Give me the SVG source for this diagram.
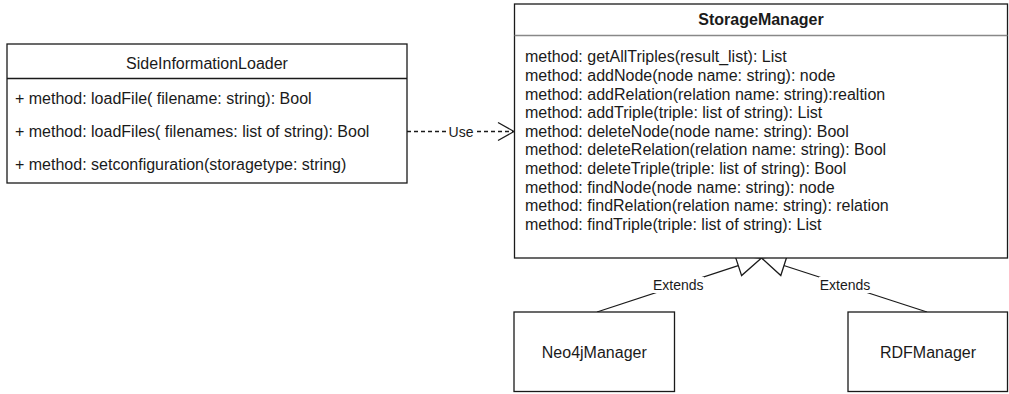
<svg xmlns="http://www.w3.org/2000/svg" width="1009" height="394" viewBox="0 0 1009 394">
<style>
.box{fill:#fff;stroke:#1a1a1a;stroke-width:1.3}
.sep{stroke:#1a1a1a;stroke-width:1.3}
.t{font-family:"Liberation Sans",Arial,Helvetica,sans-serif;font-size:16px;fill:#1a1a1a}
.c{text-anchor:middle}
.b{font-weight:bold}
.lbl{font-family:"Liberation Sans",Arial,Helvetica,sans-serif;font-size:14px;fill:#1a1a1a;text-anchor:middle}
.edge{fill:none;stroke:#1a1a1a;stroke-width:1.3}
.dash{stroke-dasharray:4 3}
.bg{fill:#fff}
</style>
<rect width="1009" height="394" fill="#fff"/>
<g id="connectors">
  <g id="use">
    <line class="edge dash" x1="407" y1="131.5" x2="513" y2="131.5"/>
    <polyline class="edge" points="498,122.5 514,131.5 498,140.5"/>
    <rect class="bg" x="447" y="123" width="28" height="16"/>
    <text class="lbl" x="461" y="136.5">Use</text>
  </g>
  <g id="extends-neo4j">
    <line class="edge" x1="597" y1="312" x2="738.2" y2="265.6"/>
    <polygon class="edge" points="735,255.6 761.5,258 741.6,275.6" style="fill:#fff"/>
    <rect class="bg" x="652" y="277" width="52" height="16"/>
    <text class="lbl" x="678.3" y="290">Extends</text>
  </g>
  <g id="extends-rdf">
    <line class="edge" x1="927" y1="312" x2="783.8" y2="265.5"/>
    <polygon class="edge" points="787.3,255.3 761.5,258 780.8,275.5" style="fill:#fff"/>
    <rect class="bg" x="819" y="277" width="52" height="16"/>
    <text class="lbl" x="845" y="290">Extends</text>
  </g>
</g>
<g id="SideInformationLoader">
  <rect class="box" x="7" y="44" width="400" height="139"/>
  <line class="sep" x1="7" y1="78.5" x2="407" y2="78.5"/>
  <text class="t c" x="207" y="68.5">SideInformationLoader</text>
  <text class="t" x="15" y="104">+ method: loadFile( filename: string): Bool</text>
  <text class="t" x="15" y="136.8">+ method: loadFiles( filenames: list of string): Bool</text>
  <text class="t" x="15" y="169.6">+ method: setconfiguration(storagetype: string)</text>
</g>
<g id="StorageManager">
  <rect class="box" x="514.5" y="4" width="493" height="254"/>
  <line x1="514.5" y1="35.5" x2="1007.5" y2="35.5" stroke="#888" stroke-width="1.5"/>
  <text class="t c b" x="761" y="25">StorageManager</text>
  <text class="t" x="525" y="62.3">method: getAllTriples(result_list): List</text>
  <text class="t" x="525" y="80.9">method: addNode(node name: string): node</text>
  <text class="t" x="525" y="99.5">method: addRelation(relation name: string):realtion</text>
  <text class="t" x="525" y="118.2">method: addTriple(triple: list of string): List</text>
  <text class="t" x="525" y="136.8">method: deleteNode(node name: string): Bool</text>
  <text class="t" x="525" y="155.4">method: deleteRelation(relation name: string): Bool</text>
  <text class="t" x="525" y="174">method: deleteTriple(triple: list of string): Bool</text>
  <text class="t" x="525" y="192.6">method: findNode(node name: string): node</text>
  <text class="t" x="525" y="211.3">method: findRelation(relation name: string): relation</text>
  <text class="t" x="525" y="229.9">method: findTriple(triple: list of string): List</text>
</g>
<g id="Neo4jManager">
  <rect class="box" x="514" y="312" width="160.5" height="79.5"/>
  <text class="t c" x="594.3" y="358.2">Neo4jManager</text>
</g>
<g id="RDFManager">
  <rect class="box" x="848" y="312" width="159.5" height="79.5"/>
  <text class="t c" x="928" y="358.2">RDFManager</text>
</g>
</svg>
